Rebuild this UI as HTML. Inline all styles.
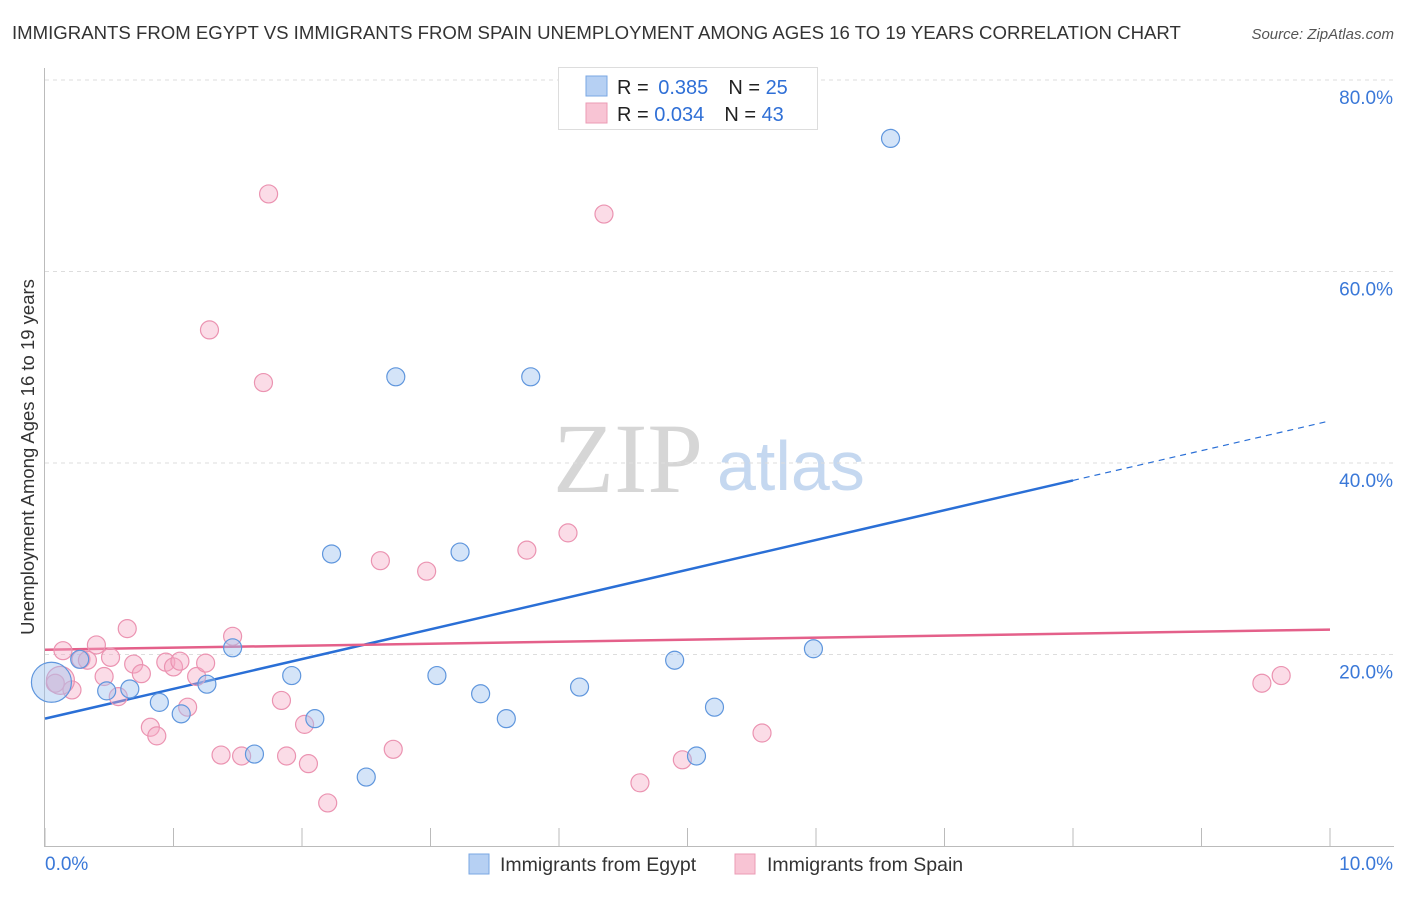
<!DOCTYPE html>
<html><head><meta charset="utf-8"><style>
body{margin:0;background:#fff;font-family:"Liberation Sans",sans-serif;}
</style></head><body>
<svg id="chart" width="1406" height="892" xmlns="http://www.w3.org/2000/svg" style="font-family:'Liberation Sans',sans-serif">
<text x="12" y="39" font-size="18.6" fill="#333">IMMIGRANTS FROM EGYPT VS IMMIGRANTS FROM SPAIN UNEMPLOYMENT AMONG AGES 16 TO 19 YEARS CORRELATION CHART</text>
<text x="1394" y="39" font-size="15" fill="#555" font-style="italic" text-anchor="end">Source: ZipAtlas.com</text>
<text transform="translate(34,457) rotate(-90)" font-size="18.5" fill="#333" text-anchor="middle">Unemployment Among Ages 16 to 19 years</text>
<g>
<text x="553" y="492" font-size="100" fill="#d6d6d6" style="font-family:'Liberation Serif',serif">ZIP</text>
<text x="717" y="490" font-size="70" fill="#c5d8f0">atlas</text>
</g>
<g id="grid"></g><g id="axes"></g><g id="trend"></g><g id="pts"></g>
<g>
<rect x="558.5" y="67.5" width="259" height="62" fill="#fff" stroke="#ddd"/>
<rect x="586" y="76" width="21" height="20" fill="#b6d0f3" stroke="#7aa7e3"/>
<rect x="586" y="103" width="21" height="20" fill="#f8c4d4" stroke="#eb9bb5"/>
<text x="617" y="94" font-size="20" fill="#222">R = <tspan dx="4" fill="#2f6fd6">0.385</tspan><tspan dx="20" fill="#222">N = </tspan><tspan fill="#2f6fd6">25</tspan></text>
<text x="617" y="121" font-size="20" fill="#222">R = <tspan fill="#2f6fd6">0.034</tspan><tspan dx="20" fill="#222">N = </tspan><tspan fill="#2f6fd6">43</tspan></text>
</g>
<g>
<rect x="469" y="854" width="20" height="20" fill="#b6d0f3" stroke="#7aa7e3"/>
<text x="500" y="871" font-size="19.5" fill="#333">Immigrants from Egypt</text>
<rect x="735" y="854" width="20" height="20" fill="#f8c4d4" stroke="#eb9bb5"/>
<text x="767" y="871" font-size="19.5" fill="#333">Immigrants from Spain</text>
</g>
</svg>
<script>
const egyptX=[0.05,0.27,0.48,0.66,0.89,1.06,1.26,1.46,1.63,1.92,2.10,2.23,2.50,2.73,3.05,3.23,3.39,3.59,3.78,4.16,4.90,5.07,5.21,5.98,6.58];
const egyptY=[17.1,19.5,16.2,16.4,15.0,13.8,16.9,20.7,9.6,17.8,13.3,30.5,7.2,49.0,17.8,30.7,15.9,13.3,49.0,16.6,19.4,9.4,14.5,20.6,73.9];
const spainX=[0.08,0.14,0.21,0.28,0.33,0.40,0.46,0.51,0.57,0.64,0.69,0.75,0.82,0.87,0.94,1.00,1.05,1.11,1.18,1.25,1.28,1.37,1.46,1.53,1.70,1.74,1.84,1.88,2.02,2.05,2.20,2.61,2.71,2.97,3.75,4.07,4.35,4.63,4.96,5.58,9.47,9.62,0.12];
const spainY=[17.0,20.4,16.3,19.5,19.4,21.0,17.7,19.7,15.6,22.7,19.0,18.0,12.4,11.5,19.2,18.7,19.3,14.5,17.7,19.1,53.9,9.5,21.9,9.4,48.4,68.1,15.2,9.4,12.7,8.6,4.5,29.8,10.1,28.7,30.9,32.7,66.0,6.6,9.0,11.8,17.0,17.8,17.3];
const egyptTrend=[13.3,3.11];
const spainTrend=[20.5,0.21];
const yTicks=[20,40,60,80];
const yTickLabels=["20.0%","40.0%","60.0%","80.0%"];
const xTicks=[0,1,2,3,4,5,6,7,8,9,10];
const NS="http://www.w3.org/2000/svg";
const sx=v=>45+v*128.5, sy=v=>846-v*9.575;
function mk(t,a,p){const e=document.createElementNS(NS,t);for(const k in a)e.setAttribute(k,a[k]);document.getElementById(p).appendChild(e);return e;}
yTicks.forEach((t,i)=>{
 const l=mk('line',{x1:45,x2:1394,y1:sy(t),y2:sy(t),stroke:'#ddd','stroke-dasharray':'4,4'},'grid');
 
 
 const tx=mk('text',{x:1393,y:sy(t)+24,'font-size':19,fill:'#3a78d8','text-anchor':'end'},'axes');
 tx.textContent=yTickLabels[i];
 
 
});
const ax=mk('line',{x1:44.5,x2:44.5,y1:68,y2:846,stroke:'#bbb'},'axes');


const bx=mk('line',{x1:44,x2:1394,y1:846.5,y2:846.5,stroke:'#bbb'},'axes');


xTicks.forEach(t=>{const l=mk('line',{x1:sx(t),x2:sx(t),y1:828,y2:846,stroke:'#bbb'},'axes');
 
 });
const xl0=mk('text',{x:45,y:870,'font-size':19,fill:'#3a78d8'},'axes');xl0.textContent='0.0%';


const xl1=mk('text',{x:1393,y:870,'font-size':19,fill:'#3a78d8','text-anchor':'end'},'axes');xl1.textContent='10.0%';


const e1=mk('line',{x1:sx(0),y1:sy(egyptTrend[0]),x2:sx(8),y2:sy(egyptTrend[0]+8*egyptTrend[1]),stroke:'#2a6fd6','stroke-width':2.5},'trend');


const e2=mk('line',{x1:sx(8),y1:sy(egyptTrend[0]+8*egyptTrend[1]),x2:sx(10),y2:sy(egyptTrend[0]+10*egyptTrend[1]),stroke:'#2a6fd6','stroke-width':1.2,'stroke-dasharray':'6,5'},'trend');


const s1=mk('line',{x1:sx(0),y1:sy(spainTrend[0]),x2:sx(10),y2:sy(spainTrend[0]+10*spainTrend[1]),stroke:'#e4608a','stroke-width':2.5},'trend');


spainX.forEach((x,i)=>{const c=mk('circle',{cx:sx(x),cy:sy(spainY[i]),r:i==spainX.length-1?14:9,fill:'rgba(244,168,194,0.4)',stroke:'#eb93b1','stroke-width':1.2},'pts');
 
 });
egyptX.forEach((x,i)=>{const c=mk('circle',{cx:sx(x),cy:sy(egyptY[i]),r:i==0?20:9,fill:'rgba(160,196,240,0.45)',stroke:'#5f96dd','stroke-width':1.2},'pts');
 
 });
</script>
</body></html>
